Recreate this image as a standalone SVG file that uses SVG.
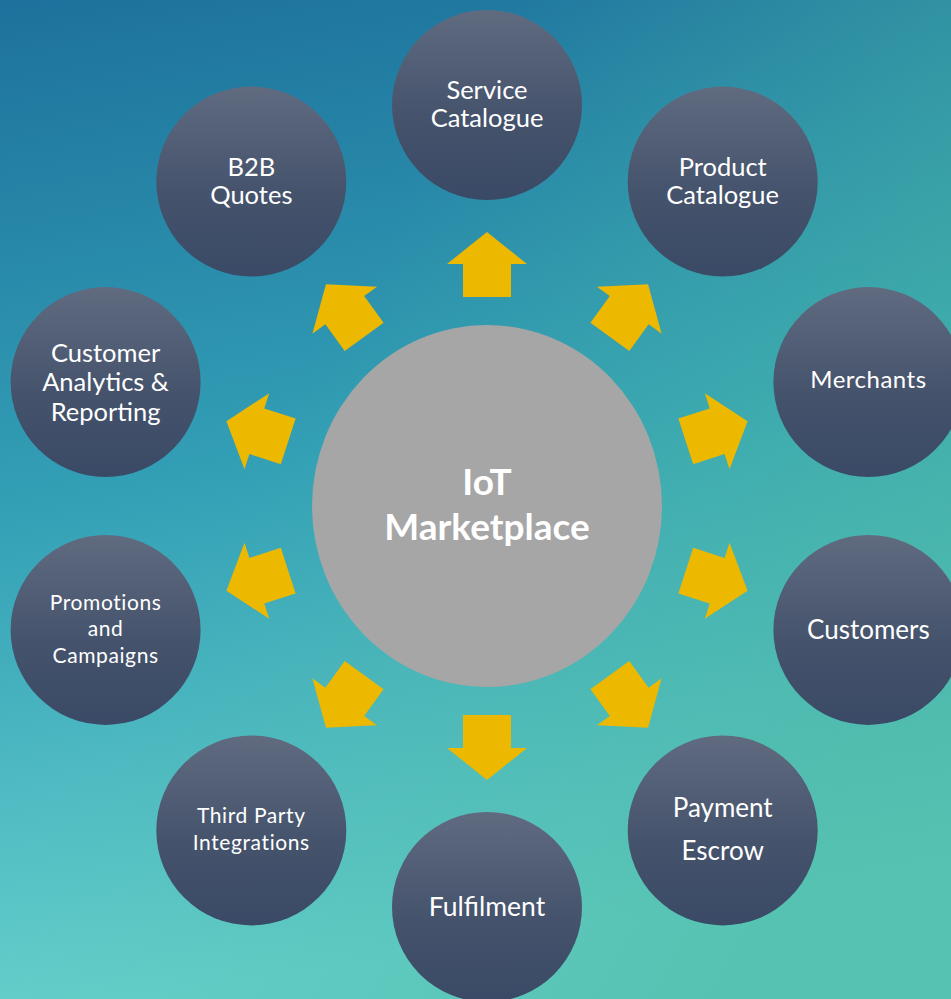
<svg xmlns="http://www.w3.org/2000/svg" xmlns:xlink="http://www.w3.org/1999/xlink" width="951" height="999" viewBox="0 0 951 999">
<defs>
<linearGradient id="bg" x1="0" y1="0" x2="0.15" y2="1">
<stop offset="0" stop-color="#1d719c"/>
<stop offset="0.5" stop-color="#33a0b6"/>
<stop offset="1" stop-color="#66d0cc"/>
</linearGradient>
<linearGradient id="bg2" x1="0" y1="0" x2="1" y2="0.6">
<stop offset="0.4" stop-color="#4cb9a0" stop-opacity="0"/>
<stop offset="1" stop-color="#4cb9a0" stop-opacity="0.6"/>
</linearGradient>
<linearGradient id="node" x1="0" y1="0" x2="0" y2="1">
<stop offset="0" stop-color="#606b80"/>
<stop offset="0.55" stop-color="#45536c"/>
<stop offset="1" stop-color="#3a4965"/>
</linearGradient>
<path id="arr" d="M -24,-209 L -24,-242 L -40,-242 L 0,-274 L 40,-242 L 24,-242 L 24,-209 Z"/>
<style>
.n{fill:url(#node)}
.t{fill:#ffffff;font-family:Lato,"Open Sans","Liberation Sans",sans-serif;text-anchor:middle}
.l{font-size:25.5px}
.s{font-size:21px;letter-spacing:0.6px}
.a{fill:#ecb800}
</style>
</defs>
<rect width="951" height="999" fill="url(#bg)"/>
<rect width="951" height="999" fill="url(#bg2)"/>
<g id="connectors">
<use xlink:href="#arr" class="a" transform="translate(487 506) rotate(0)"/>
<use xlink:href="#arr" class="a" transform="translate(487 506) rotate(36)"/>
<use xlink:href="#arr" class="a" transform="translate(487 506) rotate(72)"/>
<use xlink:href="#arr" class="a" transform="translate(487 506) rotate(108)"/>
<use xlink:href="#arr" class="a" transform="translate(487 506) rotate(144)"/>
<use xlink:href="#arr" class="a" transform="translate(487 506) rotate(180)"/>
<use xlink:href="#arr" class="a" transform="translate(487 506) rotate(216)"/>
<use xlink:href="#arr" class="a" transform="translate(487 506) rotate(252)"/>
<use xlink:href="#arr" class="a" transform="translate(487 506) rotate(288)"/>
<use xlink:href="#arr" class="a" transform="translate(487 506) rotate(324)"/>
</g>
<g id="center">
<ellipse cx="487" cy="506" rx="175" ry="181" fill="#a6a6a6"/>
<text class="t" x="487" y="495" font-size="37" font-weight="bold">IoT</text>
<text class="t" x="487" y="540" font-size="37" font-weight="bold">Marketplace</text>
</g>
<g id="service">
<circle class="n" cx="487" cy="105" r="95"/>
<text class="t l" x="487" y="99">Service</text>
<text class="t l" x="487" y="127">Catalogue</text>
</g>
<g id="product">
<circle class="n" cx="722.7" cy="181.6" r="95"/>
<text class="t l" x="722.7" y="176">Product</text>
<text class="t l" x="722.7" y="204">Catalogue</text>
</g>
<g id="merchants">
<circle class="n" cx="868.4" cy="382.1" r="95"/>
<text class="t" x="868.4" y="388" font-size="24" letter-spacing="0.5">Merchants</text>
</g>
<g id="customers">
<circle class="n" cx="868.4" cy="629.9" r="95"/>
<text class="t" x="868.4" y="639" font-size="26">Customers</text>
</g>
<g id="payment">
<circle class="n" cx="722.7" cy="830.4" r="95"/>
<text class="t" x="722.7" y="817" font-size="26">Payment</text>
<text class="t" x="722.7" y="860" font-size="26">Escrow</text>
</g>
<g id="fulfilment">
<circle class="n" cx="487" cy="907" r="95"/>
<text class="t" x="487" y="916" font-size="26.5">Fulfilment</text>
</g>
<g id="thirdparty">
<circle class="n" cx="251.3" cy="830.4" r="95"/>
<text class="t s" x="251.3" y="823">Third Party</text>
<text class="t s" x="251.3" y="850">Integrations</text>
</g>
<g id="promotions">
<circle class="n" cx="105.6" cy="629.9" r="95"/>
<text class="t s" x="105.6" y="610">Promotions</text>
<text class="t s" x="105.6" y="636">and</text>
<text class="t s" x="105.6" y="663">Campaigns</text>
</g>
<g id="analytics">
<circle class="n" cx="105.6" cy="382.1" r="95"/>
<text class="t l" x="105.6" y="362">Customer</text>
<text class="t l" x="105.6" y="391">Analytics &amp;</text>
<text class="t l" x="105.6" y="421">Reporting</text>
</g>
<g id="b2b">
<circle class="n" cx="251.3" cy="181.6" r="95"/>
<text class="t l" x="251.3" y="176">B2B</text>
<text class="t l" x="251.3" y="204">Quotes</text>
</g>
</svg>
